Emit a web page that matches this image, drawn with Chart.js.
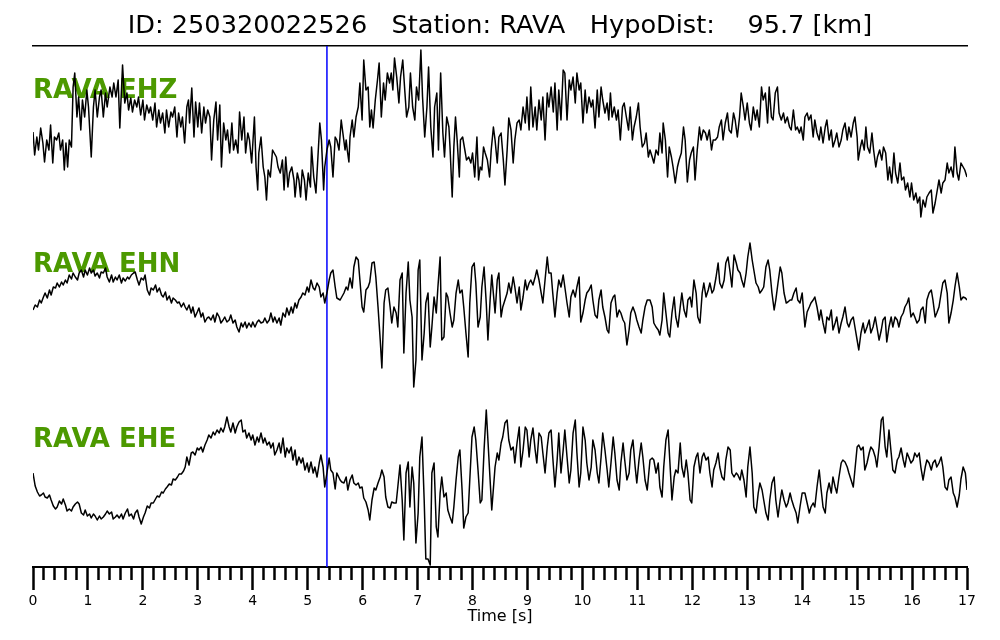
<!DOCTYPE html>
<html>
<head>
<meta charset="utf-8">
<script src="https://cdn.jsdelivr.net/npm/chart.js@4.4.1/dist/chart.umd.min.js"></script>
<style>
html,body{margin:0;padding:0;background:#fff;}
#wrap{width:1000px;height:640px;}
</style>
</head>
<body>
<div id="wrap"><canvas id="c" width="1000" height="640"></canvas></div>
<script>
// ---------- Text ----------
const titleText = 'ID: 250320022526   Station: RAVA   HypoDist:    95.7 [km]';
const axisTitle = 'Time [s]';
const channelNames = ['RAVA EHZ', 'RAVA EHN', 'RAVA EHE'];

// ---------- Time axis range (s) ----------
const timeRange = [0, 17];
const majorTickStep = 1;
const minorTickStep = 0.2;

// ---------- P pick (s) ----------
const pickTime = 5.35;

// ---------- EHZ: sample times (s) and amplitudes (counts) ----------
const timeZ = [
0.00,0.03,0.07,0.10,0.14,0.18,0.21,0.25,0.29,0.32,
0.36,0.39,0.43,0.47,0.50,0.54,0.57,0.60,0.63,0.66,
0.70,0.73,0.76,0.80,0.83,0.87,0.90,0.94,0.98,1.01,
1.06,1.10,1.13,1.17,1.21,1.24,1.28,1.32,1.35,1.40,
1.44,1.47,1.51,1.55,1.58,1.63,1.67,1.71,1.74,1.78,
1.81,1.85,1.89,1.92,1.96,2.00,2.03,2.07,2.11,2.14,
2.18,2.22,2.25,2.29,2.32,2.36,2.40,2.43,2.47,2.51,
2.54,2.58,2.62,2.65,2.69,2.72,2.76,2.80,2.83,2.85,
2.89,2.93,2.96,3.00,3.03,3.07,3.11,3.14,3.18,3.22,
3.25,3.29,3.33,3.36,3.40,3.43,3.47,3.51,3.54,3.58,
3.62,3.65,3.69,3.73,3.76,3.80,3.84,3.87,3.91,3.94,
3.98,4.03,4.06,4.09,4.11,4.15,4.19,4.22,4.25,4.28,
4.32,4.36,4.39,4.43,4.46,4.50,4.54,4.57,4.60,4.64,
4.67,4.71,4.75,4.77,4.81,4.84,4.87,4.90,4.94,4.97,
5.01,5.05,5.07,5.11,5.15,5.18,5.22,5.25,5.29,5.31,
5.35,5.39,5.42,5.46,5.50,5.53,5.57,5.61,5.64,5.68,
5.70,5.72,5.75,5.77,5.81,5.84,5.88,5.92,5.95,5.99,
6.02,6.06,6.10,6.13,6.16,6.19,6.23,6.27,6.30,6.34,
6.38,6.41,6.45,6.49,6.52,6.55,6.58,6.62,6.66,6.69,
6.73,6.77,6.80,6.84,6.87,6.91,6.95,6.98,7.02,7.06,
7.09,7.13,7.17,7.20,7.24,7.28,7.31,7.35,7.38,7.42,
7.46,7.49,7.53,7.57,7.59,7.63,7.66,7.69,7.72,7.76,
7.78,7.82,7.86,7.89,7.93,7.97,8.00,8.04,8.08,8.11,
8.14,8.17,8.20,8.23,8.27,8.31,8.34,8.38,8.41,8.45,
8.48,8.52,8.56,8.59,8.63,8.66,8.70,8.74,8.77,8.81,
8.85,8.88,8.92,8.96,8.99,9.03,9.06,9.10,9.14,9.17,
9.21,9.25,9.28,9.32,9.36,9.39,9.43,9.47,9.50,9.54,
9.57,9.61,9.65,9.68,9.72,9.76,9.79,9.83,9.87,9.90,
9.94,9.97,10.01,10.05,10.08,10.12,10.16,10.19,10.23,10.27,
10.30,10.34,10.37,10.41,10.45,10.48,10.51,10.54,10.58,10.62,
10.65,10.69,10.73,10.76,10.80,10.84,10.87,10.91,10.94,10.98,
11.02,11.05,11.09,11.13,11.16,11.20,11.23,11.27,11.30,11.34,
11.38,11.41,11.45,11.47,11.51,11.55,11.58,11.62,11.65,11.69,
11.73,11.76,11.80,11.84,11.87,11.91,11.95,11.98,12.02,12.05,
12.09,12.13,12.16,12.20,12.24,12.27,12.31,12.35,12.38,12.42,
12.46,12.49,12.53,12.56,12.60,12.64,12.67,12.71,12.75,12.78,
12.82,12.86,12.89,12.93,12.96,13.00,13.04,13.07,13.11,13.15,
13.18,13.22,13.26,13.29,13.33,13.37,13.40,13.44,13.47,13.51,
13.55,13.58,13.62,13.66,13.69,13.73,13.77,13.80,13.84,13.88,
13.91,13.95,13.98,14.02,14.05,14.09,14.12,14.16,14.20,14.23,
14.27,14.31,14.34,14.38,14.42,14.45,14.49,14.53,14.56,14.60,
14.63,14.67,14.71,14.74,14.78,14.82,14.85,14.89,14.93,14.96,
15.00,15.02,15.06,15.09,15.13,15.16,15.19,15.23,15.27,15.30,
15.34,15.37,15.41,15.45,15.48,15.52,15.56,15.59,15.63,15.67,
15.70,15.74,15.78,15.81,15.85,15.88,15.92,15.96,15.99,16.03,
16.07,16.10,16.14,16.16,16.20,16.24,16.27,16.31,16.35,16.38,
16.42,16.45,16.49,16.53,16.56,16.60,16.64,16.67,16.71,16.75,
16.78,16.82,16.85,16.89,16.93,16.96,17.00
];
const ampEHZ = [
5,-18,0,-13,9,-6,-25,-3,-13,12,
-26,0,-3,4,-13,-3,-33,-6,-30,-3,
-10,50,64,20,40,7,37,20,47,30,
-20,30,47,20,40,47,20,44,30,50,
40,54,40,57,9,72,34,44,27,39,
25,37,30,40,22,37,17,32,24,30,
17,34,10,27,14,24,4,27,10,25,
20,30,0,24,10,20,-6,30,37,14,
49,0,35,10,34,4,30,14,27,20,
-23,17,35,-3,32,-30,14,-3,7,-16,
14,-13,-3,-16,25,-3,20,-16,4,-3,
-26,20,-30,-53,-16,0,-30,-40,-63,-33,
-40,-13,-16,-20,-30,-36,-23,-53,-20,-50,
-36,-30,-43,-60,-36,-43,-60,-33,-43,-63,
-36,-50,-10,-40,-56,-26,14,-3,-53,-30,
-13,-3,-10,-40,0,-3,-13,17,4,-13,
-3,-13,-25,0,17,0,20,30,54,17,
77,47,50,10,27,9,37,57,74,20,
54,37,64,54,64,47,79,60,34,60,
77,44,20,30,64,30,17,50,37,87,
40,0,30,70,10,-20,30,44,-13,64,
4,-20,20,10,-10,-60,-10,20,-3,-40,
-3,0,-13,-23,-20,-26,-16,-40,0,-43,
-30,-33,-10,-16,-23,-40,-13,10,-3,-26,
0,4,-23,-48,-13,19,7,-26,-3,14,
17,7,30,14,40,7,50,10,30,7,
37,17,40,-3,44,30,50,25,54,7,
47,17,67,64,17,57,47,60,34,64,
47,54,14,47,24,40,30,37,9,47,
20,50,37,24,34,17,44,20,30,17,
27,-3,30,34,20,7,30,-3,10,20,
34,10,-10,-6,4,-20,-13,-20,-26,-13,
-18,4,-16,14,-3,-40,-10,-20,-30,-46,
-30,-23,-16,10,-3,-45,-23,-16,-10,-43,
-13,10,-3,7,4,-3,7,-13,-3,-3,
0,10,17,-3,14,24,7,4,24,17,
0,20,44,30,17,34,14,7,30,17,
27,10,50,37,44,14,50,20,17,44,
50,24,17,24,14,20,10,7,27,7,
10,4,10,-3,20,24,17,22,0,17,
4,-3,10,-6,10,17,-3,7,-10,-3,
4,-10,-3,7,14,-3,10,0,14,20,
0,-23,-10,-3,-13,10,-10,-16,4,-13,
-30,-20,-13,-23,-10,-16,-43,-30,-46,-16,
-36,-46,-26,-43,-40,-53,-46,-60,-46,-63,
-56,-66,-60,-80,-63,-70,-60,-56,-53,-76,
-66,-56,-43,-56,-46,-43,-26,-36,-30,-40,
-10,-36,-43,-26,-30,-33,-40
];

// ---------- EHN / EHE: shared sample times (s) ----------
const timeNE = [
0.00,0.04,0.08,0.12,0.15,0.19,0.22,0.26,0.30,0.33,
0.37,0.41,0.44,0.48,0.52,0.55,0.59,0.62,0.66,0.70,
0.73,0.77,0.81,0.84,0.88,0.92,0.95,0.99,1.03,1.06,
1.10,1.13,1.17,1.21,1.24,1.28,1.32,1.35,1.39,1.43,
1.46,1.50,1.53,1.57,1.61,1.64,1.68,1.72,1.75,1.79,
1.83,1.86,1.90,1.93,1.97,2.01,2.04,2.08,2.12,2.15,
2.19,2.23,2.26,2.30,2.34,2.37,2.41,2.44,2.48,2.52,
2.55,2.59,2.63,2.66,2.70,2.74,
2.77,2.80,2.84,2.88,2.91,2.95,2.99,3.02,3.06,3.09,
3.13,3.17,3.20,3.24,3.28,3.31,3.35,3.39,3.42,3.46,
3.49,3.53,3.57,3.60,3.64,3.68,3.71,3.75,3.79,3.82,
3.86,3.89,3.93,3.97,4.00,4.04,4.08,4.11,4.15,4.19,
4.22,4.26,4.30,4.33,4.37,4.40,4.44,4.48,4.51,4.55,
4.59,4.62,4.66,4.70,4.73,4.77,4.80,4.84,4.88,4.91,
4.95,4.99,5.02,5.06,5.10,5.13,5.17,5.21,5.24,5.28,
5.31,5.35,5.39,5.42,5.46,5.50,5.53,
5.59,5.62,5.66,5.70,5.73,5.77,5.81,5.84,5.88,5.92,
5.95,5.99,6.02,6.06,6.10,6.13,6.17,6.21,6.24,6.28,
6.32,6.35,6.39,6.42,6.46,6.50,6.53,6.57,6.61,6.64,
6.68,6.72,6.75,6.79,6.83,6.86,6.90,6.93,6.97,7.01,
7.04,7.08,7.12,7.15,7.19,7.23,7.26,7.30,7.34,7.37,
7.41,7.44,7.48,7.52,7.55,7.59,7.63,7.66,7.70,7.74,
7.77,7.81,7.84,7.88,7.92,7.95,7.99,8.03,8.06,8.10,
8.14,8.17,8.21,8.25,8.28,8.32,8.35,
8.41,8.45,8.48,8.52,8.55,8.59,8.63,8.66,8.70,8.74,
8.77,8.81,8.85,8.88,8.92,8.96,8.99,9.03,9.06,9.10,
9.14,9.17,9.21,9.25,9.28,9.32,9.36,9.39,9.43,9.46,
9.50,9.54,9.57,9.61,9.65,9.68,9.72,9.76,9.79,9.83,
9.87,9.90,9.94,9.97,10.01,10.05,10.08,10.12,10.16,10.19,
10.23,10.27,10.30,10.34,10.37,10.41,10.45,10.48,10.52,10.56,
10.59,10.63,10.67,10.70,10.74,10.77,10.81,10.85,10.88,10.92,
10.96,10.99,11.03,11.07,11.10,11.14,11.18,
11.23,11.27,11.30,11.34,11.38,11.41,11.45,11.48,11.52,11.56,
11.59,11.63,11.67,11.70,11.74,11.78,11.81,11.85,11.89,11.92,
11.96,11.99,12.03,12.07,12.10,12.14,12.18,12.21,12.25,12.29,
12.32,12.36,12.39,12.43,12.47,12.50,12.54,12.58,12.61,12.65,
12.69,12.72,12.76,12.80,12.83,12.87,12.90,12.94,12.98,13.01,
13.05,13.09,13.12,13.16,13.20,13.23,13.27,13.30,13.34,13.38,
13.41,13.45,13.49,13.52,13.56,13.60,13.63,13.67,13.71,13.74,
13.78,13.81,13.85,13.89,13.92,13.96,14.00,
14.05,14.09,14.13,14.16,14.20,14.23,14.27,14.31,14.34,14.38,
14.42,14.45,14.49,14.53,14.56,14.60,14.63,14.67,14.71,14.74,
14.78,14.82,14.85,14.89,14.93,14.96,15.00,15.03,15.07,15.11,
15.14,15.18,15.22,15.25,15.29,15.33,15.36,15.40,15.44,15.47,
15.51,15.54,15.58,15.62,15.65,15.69,15.73,15.76,15.80,15.84,
15.87,15.91,15.94,15.98,16.02,16.05,16.09,16.13,16.16,16.20,
16.24,16.27,16.31,16.35,16.38,16.42,16.45,16.49,16.53,16.56,
16.60,16.64,16.67,16.71,16.75,16.78,16.82,16.86,16.89,16.93,
16.97,17.00
];

// ---------- EHN amplitudes (counts) ----------
const ampEHN = [
7,12,10,17,14,20,24,19,27,22,
30,29,34,30,35,32,37,34,42,38,
44,40,37,44,47,40,47,42,49,44,
47,41,44,39,45,44,49,40,35,42,
35,40,37,42,34,39,36,40,38,42,
44,45,37,32,39,37,42,27,22,29,
27,32,25,29,22,20,25,17,21,14,
19,17,14,15,10,14,
10,7,12,4,10,0,5,9,0,4,
-5,-1,0,-3,2,-5,4,0,-6,-3,
0,-5,-3,2,-6,-3,-10,-15,-6,-10,
-5,-11,-6,-10,-5,-10,-5,-3,-6,-5,
-1,-6,-3,4,-5,0,-6,-1,-8,4,
0,9,2,10,4,14,9,17,20,24,
22,30,25,37,29,27,34,30,20,24,
14,24,37,44,47,30,19,
17,20,24,30,27,39,29,50,60,57,
37,10,5,27,30,35,54,55,40,10,
-23,-51,14,27,29,10,-6,10,4,-10,
37,44,-36,24,55,17,0,-70,-43,47,
57,-43,-16,14,24,-30,-10,20,4,30,
60,-23,-20,24,20,4,-10,-3,24,37,
24,27,10,-16,-40,14,50,54,34,-10,
0,30,50,14,-23,17,42,
4,37,44,0,10,17,24,34,24,40,
30,14,30,7,20,37,27,34,37,32,
40,47,37,24,14,37,60,44,44,24,
0,24,37,30,42,30,14,0,20,27,
20,30,40,-5,4,17,24,27,32,17,
2,-1,17,27,10,0,-13,-16,14,20,
22,0,7,4,-3,-6,-28,-13,4,10,
4,-3,-10,-16,-3,10,17,
17,10,-6,-10,-13,-18,-3,24,4,-16,
-20,4,20,0,-10,10,24,7,0,17,
20,10,37,24,0,-6,24,34,20,27,
34,24,27,39,54,34,29,37,54,60,
44,30,62,54,47,44,37,30,44,60,
74,57,47,34,30,24,27,30,50,57,
47,24,7,17,34,50,44,24,14,15,
17,17,24,29,17,14,24,
-10,5,10,14,17,20,10,-3,7,-6,
-16,0,-3,7,-13,-6,0,-16,-6,0,
10,-6,-10,-3,0,-10,-23,-33,-16,-6,
-16,-10,-3,-16,-10,0,-10,-23,-13,-3,
0,-25,-10,0,-10,0,-3,-10,0,4,
10,14,19,0,4,0,-6,-3,7,10,
-6,17,24,27,17,0,4,10,24,34,
37,24,-6,4,17,30,44,30,17,20,
19,17
];

// ---------- EHE amplitudes (counts) ----------
const ampEHE = [
14,1,-5,-9,-8,-6,-10,-11,-8,-13,
-19,-22,-20,-14,-17,-12,-18,-24,-22,-24,
-20,-17,-15,-17,-26,-28,-23,-29,-27,-31,
-27,-29,-33,-29,-32,-30,-27,-24,-27,-25,
-32,-30,-28,-31,-27,-32,-26,-22,-29,-27,
-32,-26,-23,-30,-37,-30,-26,-19,-21,-16,
-16,-12,-9,-10,-5,-6,-2,0,3,2,
8,7,10,13,13,16,
20,30,22,34,35,32,39,37,40,35,
42,47,52,49,55,52,57,54,59,55,
60,70,60,55,64,54,60,65,67,55,
57,49,54,47,52,42,50,45,54,44,
49,42,45,39,44,32,37,44,34,49,
30,39,34,40,27,37,22,30,24,29,
17,24,15,25,14,20,10,24,32,20,
0,14,29,17,14,-2,14,
7,5,4,10,-3,7,12,4,2,4,
-1,0,-11,-15,-23,-33,-13,-1,-3,4,
10,17,10,-10,-20,-21,-15,-16,-16,0,
22,-13,-53,14,25,-20,20,4,-56,-26,
30,50,-13,-72,-72,-78,14,24,-40,-50,
-6,10,-10,-6,-23,-30,-36,-20,7,30,
37,-3,-41,-30,-26,7,50,60,47,17,
-16,-13,37,77,47,7,-23,
20,34,27,44,50,64,67,47,37,40,
24,44,60,20,37,60,57,30,47,59,
37,24,54,50,34,14,40,54,57,30,
0,27,54,14,37,57,30,4,17,54,
67,34,0,14,60,47,24,7,20,47,
37,14,4,30,54,37,17,0,24,50,
34,7,-3,24,44,27,7,14,37,47,
20,4,27,44,30,7,-3,
27,29,27,14,24,0,-10,20,47,57,
27,-13,10,17,14,44,20,10,27,14,
-13,-16,20,30,34,14,30,34,27,30,
14,0,17,24,34,20,10,7,27,40,
37,14,10,14,12,7,17,7,-10,20,
40,14,-20,-26,-6,4,-3,-13,-26,-33,
-13,4,10,-13,-30,-13,-3,-13,-20,-16,
-6,-13,-20,-26,-36,-20,-6,
-6,-16,-26,-20,-16,-20,0,17,0,-20,
-26,-6,4,-6,10,0,-6,10,24,27,
25,20,14,7,0,17,40,42,37,40,
17,24,34,40,37,30,20,40,67,70,
40,30,57,34,17,14,27,30,39,27,
20,34,30,24,27,34,30,34,20,7,
20,27,24,17,24,27,20,24,30,20,
0,-3,7,10,-6,-10,-20,-8,8,20,
14,-3
];

// ---------- Layout of the stacked traces (vertical offsets in plot units) ----------
const plotUnits = 521;
const traceBase = [430, 250, 80];
const labelLift = [39, 45, 40];

function buildPoints(times, amps, base) {
  const n = Math.min(times.length, amps.length);
  const pts = [];
  for (let i = 0; i < n; i++) pts.push({x: times[i], y: base + amps[i]});
  return pts;
}
function isMajor(v) { return Math.abs(v / majorTickStep - Math.round(v / majorTickStep)) < 1e-6; }

const FONT = '"DejaVu Sans", "Liberation Sans", sans-serif';

const channelLabelPlugin = {
  id: 'channelLabels',
  beforeDatasetsDraw(chart) {
    const {ctx} = chart;
    const xs = chart.scales.x, ys = chart.scales.y;
    ctx.save();
    ctx.font = 'bold 26px ' + FONT;
    ctx.fillStyle = '#4c9900';
    ctx.textAlign = 'left';
    ctx.textBaseline = 'alphabetic';
    channelNames.forEach((name, i) => {
      ctx.fillText(name, xs.getPixelForValue(timeRange[0]), ys.getPixelForValue(traceBase[i] + labelLift[i]));
    });
    ctx.restore();
  }
};

const traceStyle = {borderColor: '#000', borderWidth: 1.5, pointRadius: 0, tension: 0, fill: false,
  borderJoinStyle: 'round', xAxisID: 'x', yAxisID: 'y'};

new Chart(document.getElementById('c'), {
  type: 'line',
  data: {
    datasets: [
      Object.assign({label: channelNames[0], data: buildPoints(timeZ, ampEHZ, traceBase[0])}, traceStyle),
      Object.assign({label: channelNames[1], data: buildPoints(timeNE, ampEHN, traceBase[1])}, traceStyle),
      Object.assign({label: channelNames[2], data: buildPoints(timeNE, ampEHE, traceBase[2])}, traceStyle),
      {label: 'P pick', data: [{x: pickTime, y: 0}, {x: pickTime, y: plotUnits}],
       borderColor: '#0000ff', borderWidth: 1.5, pointRadius: 0, fill: false, xAxisID: 'x', yAxisID: 'y'}
    ]
  },
  options: {
    responsive: false,
    animation: false,
    devicePixelRatio: 1,
    events: [],
    parsing: false,
    layout: {padding: {left: 33, right: 33, top: 0, bottom: 0}},
    plugins: {legend: {display: false}, tooltip: {enabled: false}, title: {display: false}},
    scales: {
      x: {
        type: 'linear', position: 'bottom', min: timeRange[0], max: timeRange[1],
        afterFit: s => { s.height = 73; },
        ticks: {
          stepSize: minorTickStep, autoSkip: false, maxRotation: 0, minRotation: 0, padding: 3,
          color: '#000', font: {family: FONT, size: 14},
          callback: v => isMajor(v) ? String(Math.round(v)) : ''
        },
        grid: {
          display: true, drawOnChartArea: false, drawTicks: true, tickLength: 23,
          tickWidth: 2.5, tickColor: '#000',
          tickBorderDash: ctx => (ctx.tick && isMajor(ctx.tick.value)) ? [] : [12, 60]
        },
        border: {display: true, color: '#000', width: 2},
        title: {display: true, text: axisTitle, color: '#000', font: {family: FONT, size: 16},
                padding: {top: 0, bottom: 14}}
      },
      xTop: {
        type: 'linear', position: 'top', min: timeRange[0], max: timeRange[1],
        afterFit: s => { s.height = 46; },
        ticks: {display: false},
        grid: {display: true, drawOnChartArea: false, drawTicks: false},
        border: {display: true, color: '#000', width: 1.5},
        title: {display: true, text: titleText, color: '#000', font: {family: FONT, size: 25.6},
                padding: {top: 11, bottom: 0}}
      },
      y: {type: 'linear', display: false, min: 0, max: plotUnits}
    }
  },
  plugins: [channelLabelPlugin]
});
</script>
</body>
</html>
